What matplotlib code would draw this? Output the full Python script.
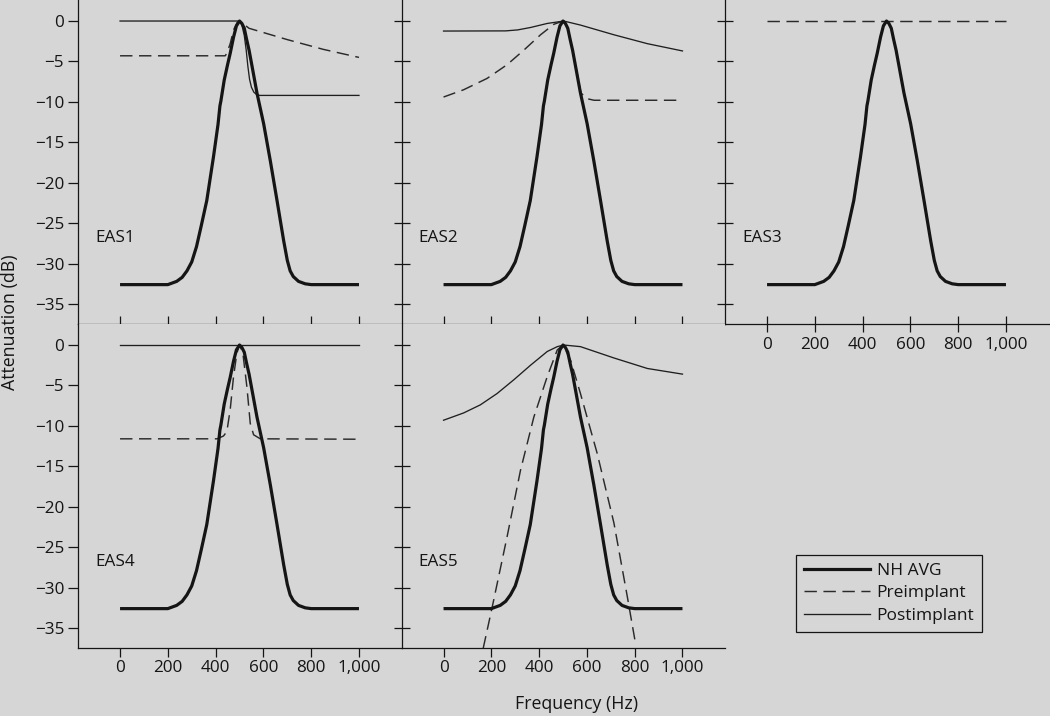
import matplotlib
matplotlib.use("Agg")
import matplotlib.pyplot as plt
from matplotlib.lines import Line2D

plt.rcParams['font.family'] = ['Open Sans', 'DejaVu Sans']

# ---------------- data ----------------
nh_freq = [0, 200, 237, 260, 280, 300, 320, 340, 363, 391, 410, 418, 422, 436, 450, 461,
           475, 487, 500, 510, 520, 530, 540, 555, 573, 601, 629, 657, 685, 700, 712,
           725, 747, 775, 800, 1000]
nh_db = [-32.6, -32.6, -32.2, -31.7, -30.9, -29.8, -27.9, -25.3, -22.2, -16.8, -12.8, -10.5,
         -9.9, -7.3, -5.4, -4.0, -2.0, -0.6, 0.0, -0.3, -0.9, -2.3, -3.6, -6.0, -8.9,
         -12.7, -17.3, -22.2, -27.2, -29.6, -30.9, -31.6, -32.2, -32.5, -32.6, -32.6]

# EAS1
eas1_pre_freq = [0, 440, 447, 461, 475, 490, 500, 540, 700, 850, 1000]
eas1_pre_db = [-4.3, -4.3, -4.0, -2.8, -1.1, -0.2, 0.0, -0.9, -2.3, -3.5, -4.5]
eas1_post_freq = [0, 495, 500, 510, 520, 528, 535, 542, 550, 560, 572, 585, 1000]
eas1_post_db = [0.0, 0.0, 0.0, -0.5, -1.8, -3.6, -5.6, -7.2, -8.2, -8.8, -9.1, -9.2, -9.2]

# EAS2
eas2_pre_freq = [0, 84, 182, 266, 336, 406, 462, 500, 520, 540, 575, 600, 630, 1000]
eas2_pre_db = [-9.4, -8.5, -7.1, -5.4, -3.6, -1.7, -0.4, 0.0, -0.9, -3.6, -8.9, -9.6, -9.8, -9.8]
eas2_post_freq = [0, 260, 310, 364, 434, 503, 573, 713, 853, 1000]
eas2_post_db = [-1.24, -1.22, -1.1, -0.8, -0.3, 0.0, -0.5, -1.7, -2.8, -3.7]

# EAS3
eas3_pre_freq = [0, 1000]
eas3_pre_db = [0.0, 0.0]

# EAS4
eas4_pre_freq = [0, 406, 433, 447, 461, 475, 489, 500, 514, 531, 545, 559, 587, 1000]
eas4_pre_db = [-11.6, -11.6, -11.25, -10.7, -8.0, -3.9, -1.0, 0.0, -1.0, -5.2, -9.7, -11.1,
               -11.6, -11.65]
eas4_post_freq = [0, 1000]
eas4_post_db = [0.0, 0.0]

# EAS5
eas5_pre_freq = [166, 203, 266, 322, 378, 434, 476, 500, 532, 573, 643, 713, 769, 801]
eas5_pre_db = [-37.5, -32.5, -23.7, -15.5, -8.9, -3.9, -0.6, 0.0, -1.9, -6.0, -13.4, -22.0,
               -31.1, -36.5]
eas5_post_freq = [0, 84, 154, 224, 294, 364, 434, 476, 503, 573, 713, 853, 1000]
eas5_post_db = [-9.3, -8.4, -7.4, -6.0, -4.3, -2.5, -0.8, -0.2, 0.0, -0.2, -1.6, -2.9, -3.6]

panel_names = ['EAS1', 'EAS2', 'EAS3', 'EAS4', 'EAS5']
pre_series = [(eas1_pre_freq, eas1_pre_db), (eas2_pre_freq, eas2_pre_db),
              (eas3_pre_freq, eas3_pre_db), (eas4_pre_freq, eas4_pre_db),
              (eas5_pre_freq, eas5_pre_db)]
post_series = [(eas1_post_freq, eas1_post_db), (eas2_post_freq, eas2_post_db), None,
               (eas4_post_freq, eas4_post_db), (eas5_post_freq, eas5_post_db)]

x_ticks = [0, 200, 400, 600, 800, 1000]
x_ticklabels = ['0', '200', '400', '600', '800', '1,000']
y_ticks = [0, -5, -10, -15, -20, -25, -30, -35]

# ---------------- style ----------------
BG = '#d6d6d6'
INK = '#151515'
W, H = 1050, 716
fig = plt.figure(figsize=(W / 100, H / 100), dpi=100, facecolor=BG)

col_left = [78, 401.5, 725]
pw = 323.5
ph = 324
row_bottom = [324, 648]   # pixel y of bottom edge (top origin)
positions = [(0, 0), (0, 1), (0, 2), (1, 0), (1, 1)]

XLIM = (-176, 1178)
YLIM = (-37.47, 2.6)
dash = (0, (8.5, 4.5))
FS = 12.3

axes = []
for i, (r, c) in enumerate(positions):
    left = col_left[c] / W
    bottom = (H - row_bottom[r]) / H
    ax = fig.add_axes([left, bottom, pw / W, ph / H])
    ax.set_facecolor(BG)
    ax.set_xlim(*XLIM)
    ax.set_ylim(*YLIM)
    for s in ['top', 'right']:
        ax.spines[s].set_visible(False)
    for s in ['left', 'bottom']:
        ax.spines[s].set_color(INK)
        ax.spines[s].set_linewidth(0.9)
    ax.set_xticks(x_ticks)
    ax.set_xticklabels(x_ticklabels)
    ax.set_yticks(y_ticks)
    ax.set_yticklabels([f'\u2212{abs(v)}' if v < 0 else '0' for v in y_ticks])

    # ticks
    if c == 0:
        ax.tick_params(axis='y', direction='out', length=7, width=0.9, color=INK,
                       labelsize=FS, pad=3, labelcolor=INK)
    else:
        ax.tick_params(axis='y', direction='inout', length=12, width=0.9, color=INK,
                       labelleft=False)
    if r == 0:
        ax.tick_params(axis='x', direction='inout', length=12, width=0.9, color=INK,
                       labelbottom=(c == 2), labelsize=FS, pad=3.5, labelcolor=INK)
    else:
        ax.tick_params(axis='x', direction='out', length=6.5, width=0.9, color=INK,
                       labelsize=FS, pad=2.5, labelcolor=INK)

    # lines
    ax.plot(nh_freq, nh_db, color=INK, lw=2.3, solid_capstyle='butt',
            solid_joinstyle='round', zorder=3)
    pf, pdb = pre_series[i]
    ax.plot(pf, pdb, color='#2a2a2a', lw=1.05, linestyle=dash, zorder=2)
    if post_series[i] is not None:
        qf, qdb = post_series[i]
        ax.plot(qf, qdb, color='#1f1f1f', lw=0.95, zorder=2)

    ax.text(-105, -26.8, panel_names[i], fontsize=FS, color=INK,
            ha='left', va='center')
    axes.append(ax)

# axis labels
fig.text(10 / W, 1 - 322 / H, 'Attenuation (dB)', rotation=90, fontsize=12.8,
         ha='center', va='center', color=INK)
fig.text(577 / W, 1 - 704 / H, 'Frequency (Hz)', fontsize=12.8,
         ha='center', va='center', color=INK)

# legend
handles = [Line2D([], [], color=INK, lw=2.3),
           Line2D([], [], color='#2a2a2a', lw=1.05, linestyle=dash),
           Line2D([], [], color='#1f1f1f', lw=0.95)]
labels = ['NH AVG', 'Preimplant', 'Postimplant']
leg = fig.legend(handles, labels, loc='upper left',
                 bbox_to_anchor=(796 / W, 1 - 555 / H), borderaxespad=0,
                 frameon=True, fancybox=False, framealpha=1, facecolor=BG,
                 edgecolor=INK, fontsize=12.5, handlelength=3.8, handletextpad=0.4,
                 labelspacing=0.36, borderpad=0.45)
leg.get_frame().set_linewidth(0.9)
for t in leg.get_texts():
    t.set_color(INK)

fig.savefig('out.png', dpi=100, facecolor=BG)
